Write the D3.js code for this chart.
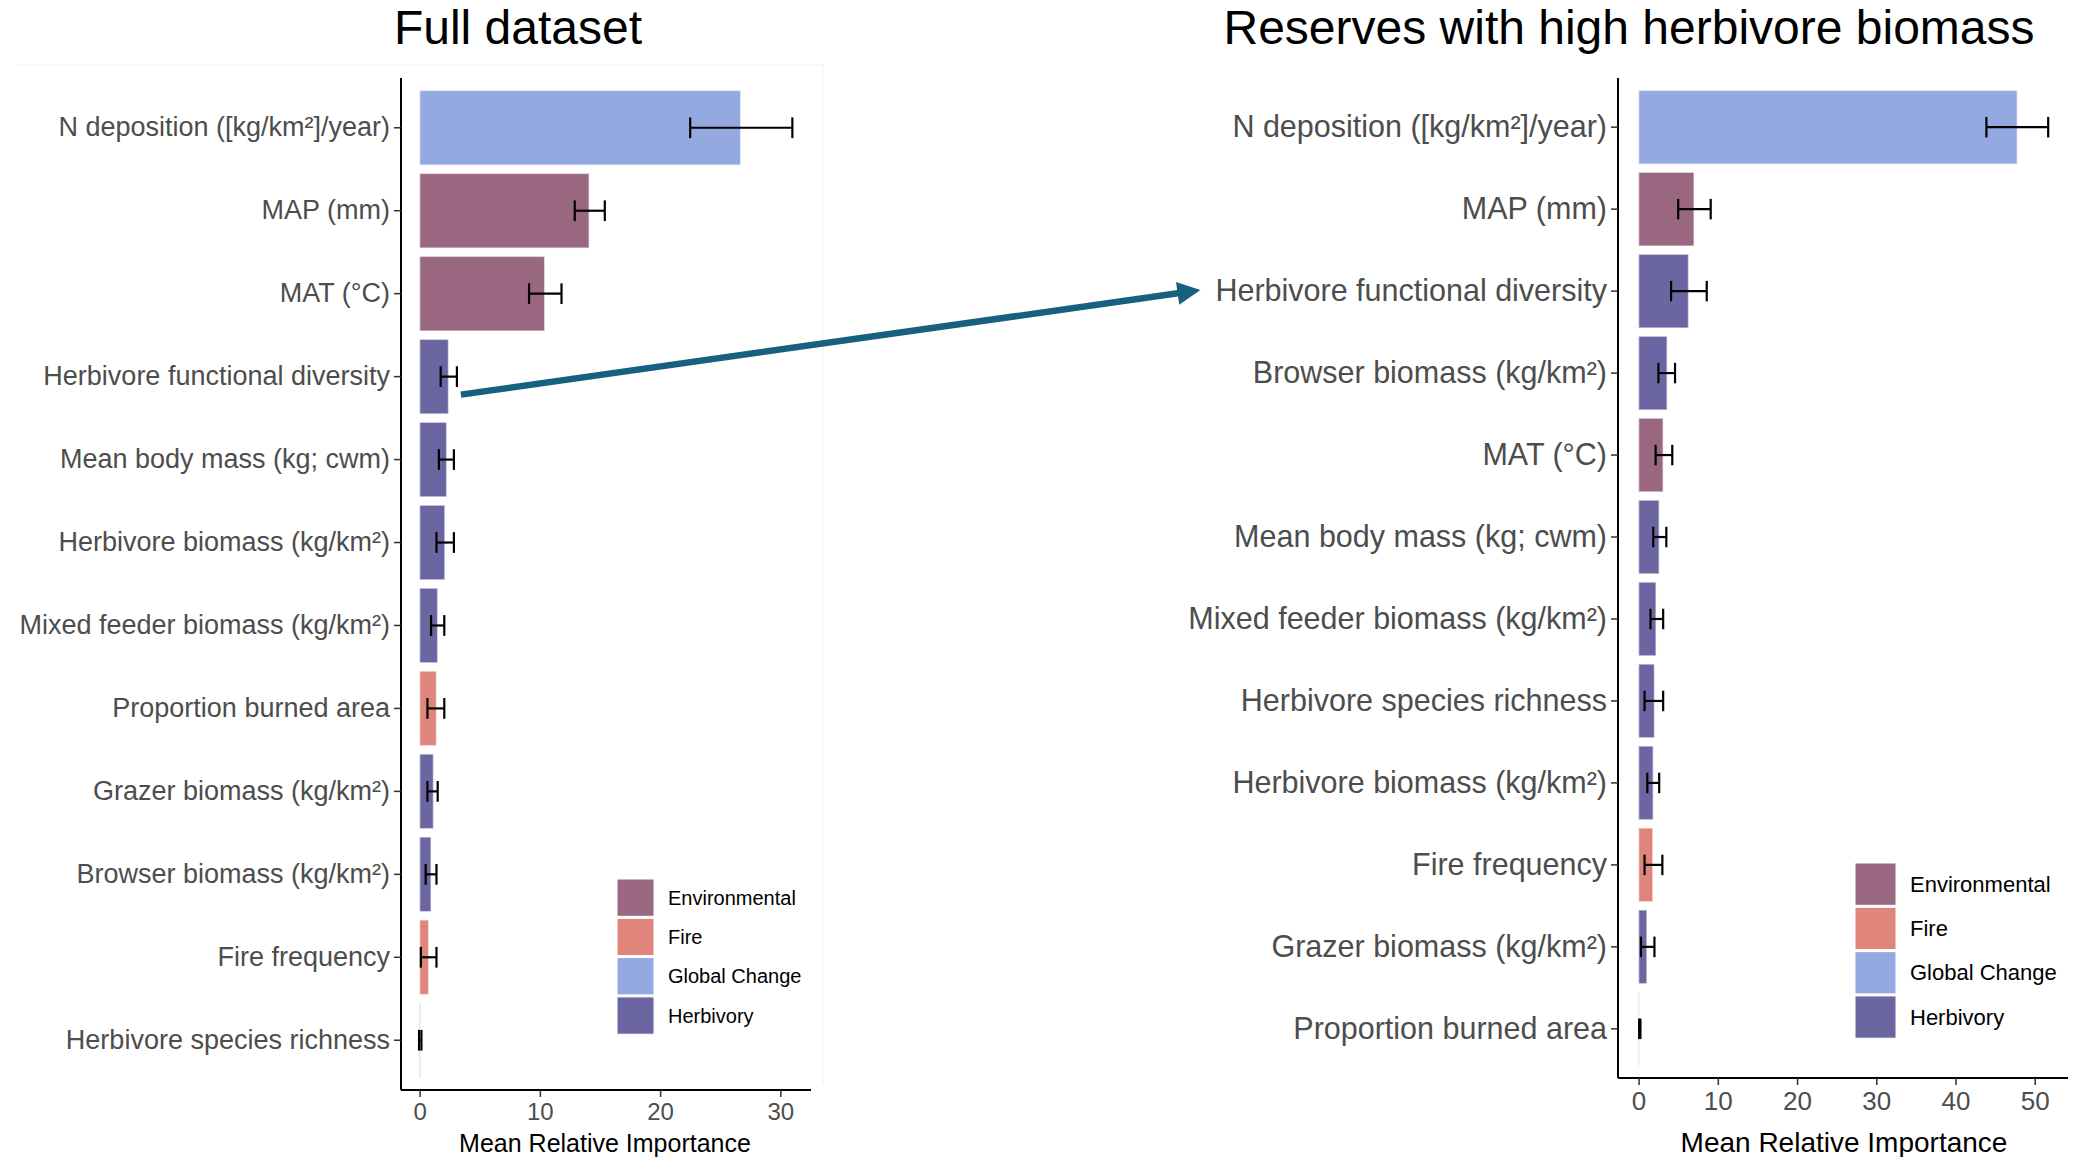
<!DOCTYPE html>
<html><head><meta charset="utf-8">
<script src="https://cdn.jsdelivr.net/npm/d3@7"></script>
<style>body{margin:0;background:#fff} svg{display:block} text{font-family:"Liberation Sans",Arial,Helvetica,sans-serif}</style>
</head><body><svg id="c" width="2075" height="1157"></svg>
<script>
const leftCategories = ["N deposition ([kg/km²]/year)","MAP (mm)","MAT (°C)","Herbivore functional diversity","Mean body mass (kg; cwm)","Herbivore biomass (kg/km²)","Mixed feeder biomass (kg/km²)","Proportion burned area","Grazer biomass (kg/km²)","Browser biomass (kg/km²)","Fire frequency","Herbivore species richness"];
const leftGroups = ["Global Change","Environmental","Environmental","Herbivory","Herbivory","Herbivory","Herbivory","Fire","Herbivory","Herbivory","Fire","Herbivory"];
const leftValues = [26.7,14.1,10.4,2.4,2.25,2.1,1.5,1.4,1.15,0.95,0.75,0.03];
const leftLower = [22.5,12.9,9.1,1.75,1.6,1.4,0.95,0.65,0.65,0.5,0.1,-0.05];
const leftUpper = [31.0,15.4,11.8,3.1,2.85,2.85,2.05,2.05,1.5,1.4,1.4,0.15];
const leftTicks = [0,10,20,30];

const rightCategories = ["N deposition ([kg/km²]/year)","MAP (mm)","Herbivore functional diversity","Browser biomass (kg/km²)","MAT (°C)","Mean body mass (kg; cwm)","Mixed feeder biomass (kg/km²)","Herbivore species richness","Herbivore biomass (kg/km²)","Fire frequency","Grazer biomass (kg/km²)","Proportion burned area"];
const rightGroups = ["Global Change","Environmental","Herbivory","Herbivory","Environmental","Herbivory","Herbivory","Herbivory","Herbivory","Fire","Herbivory","Fire"];
const rightValues = [47.8,7.0,6.3,3.6,3.1,2.6,2.2,2.0,1.85,1.8,1.05,0.02];
const rightLower = [43.9,5.0,4.1,2.5,2.15,1.85,1.5,0.75,1.1,0.75,0.3,0.07];
const rightUpper = [51.7,9.1,8.6,4.6,4.25,3.5,3.1,3.1,2.6,3.0,2.0,0.23];
const rightTicks = [0,10,20,30,40,50];

const groupNames = ["Environmental","Fire","Global Change","Herbivory"];
const groupColors = ["#9a6780","#e0857b","#94a9e0","#6b66a1"];

const titles = ["Full dataset","Reserves with high herbivore biomass"];
const axisTitle = "Mean Relative Importance";

const svg = d3.select("#c");
const color = d3.scaleOrdinal().domain(groupNames).range(groupColors);

// faint frame around left panel
svg.append("path").attr("d","M16,65H823V1085").attr("fill","none").attr("stroke","#f6f6f6").attr("stroke-width",1.5);

function panel(cfg){
  const g = svg.append("g");
  const x = d3.scaleLinear().domain(cfg.xdom).range([cfg.x0, cfg.x1]);
  const y = d3.scaleBand().domain(cfg.cats).range([cfg.top, cfg.bottom]).paddingInner(0.1).paddingOuter(0.15);
  const data = cfg.cats.map((c,i)=>({c, v:cfg.vals[i], lo:cfg.lo[i], hi:cfg.hi[i], g:cfg.groups[i]}));

  g.selectAll("rect.bar").data(data).join("rect").attr("class","bar")
    .attr("x", x(0)).attr("y", d=>y(d.c))
    .attr("width", d=>Math.max(0.6, x(d.v)-x(0))).attr("height", y.bandwidth())
    .attr("fill", d=>color(d.g)).attr("stroke","#ffffff").attr("stroke-opacity",0.55).attr("stroke-width",1.5);

  const cap = y.step()*0.25/2;
  const eb = g.selectAll("g.eb").data(data).join("g").attr("class","eb")
    .attr("transform", d=>`translate(0,${y(d.c)+y.bandwidth()/2})`);
  eb.append("line").attr("x1",d=>x(d.lo)).attr("x2",d=>x(d.hi)).attr("y1",0).attr("y2",0).attr("stroke","#000").attr("stroke-width",2.2);
  eb.append("line").attr("x1",d=>x(d.lo)).attr("x2",d=>x(d.lo)).attr("y1",-cap).attr("y2",cap).attr("stroke","#000").attr("stroke-width",2.2);
  eb.append("line").attr("x1",d=>x(d.hi)).attr("x2",d=>x(d.hi)).attr("y1",-cap).attr("y2",cap).attr("stroke","#000").attr("stroke-width",2.2);

  // y axis
  const ya = g.append("g").attr("transform",`translate(${cfg.x0},0)`)
    .call(d3.axisLeft(y).tickSize(7).tickPadding(4));
  ya.select(".domain").attr("d",`M0,${cfg.top}V${cfg.bottom}`).attr("stroke","#000").attr("stroke-width",2);
  ya.selectAll(".tick line").attr("stroke","#333").attr("stroke-width",1.5);
  ya.selectAll(".tick text").attr("font-size",cfg.yfs).attr("fill","#4d4d4d").attr("font-family","Liberation Sans, Arial, sans-serif");

  // x axis
  const xa = g.append("g").attr("transform",`translate(0,${cfg.bottom})`)
    .call(d3.axisBottom(x).tickValues(cfg.ticks).tickSize(7).tickPadding(cfg.tpad));
  xa.select(".domain").attr("d",`M${cfg.x0},0H${cfg.x1}`).attr("stroke","#000").attr("stroke-width",2);
  xa.selectAll(".tick line").attr("stroke","#333").attr("stroke-width",1.5);
  xa.selectAll(".tick text").attr("font-size",cfg.xfs).attr("fill","#4d4d4d").attr("font-family","Liberation Sans, Arial, sans-serif");

  g.append("text").attr("x",cfg.titleAxisX).attr("y",1152).attr("text-anchor","middle")
    .attr("font-size",cfg.atfs).attr("fill","#000").text(axisTitle);

  g.append("text").attr("x",cfg.titleX).attr("y",44).attr("text-anchor","middle")
    .attr("font-size",48).attr("fill","#000").text(cfg.title);

  // legend
  const lg = g.append("g").attr("transform",`translate(${cfg.lx},${cfg.ly})`);
  groupNames.forEach((n,i)=>{
    lg.append("rect").attr("x",0).attr("y",i*cfg.lstep).attr("width",cfg.lk).attr("height",cfg.lstep-2)
      .attr("fill",color(n)).attr("stroke","#fff").attr("stroke-width",1);
    lg.append("text").attr("x",cfg.lk+14).attr("y",i*cfg.lstep+(cfg.lstep-2)/2).attr("dy","0.35em")
      .attr("font-size",cfg.lfs).attr("fill","#000").text(n);
  });
  return {x,y,ya};
}

const L = panel({cats:leftCategories, vals:leftValues, lo:leftLower, hi:leftUpper, groups:leftGroups, ticks:leftTicks,
  xdom:[-1.55,32.55], x0:401, x1:811, top:78, bottom:1090, yfs:27, xfs:24, tpad:6, atfs:25, titleAxisX:605,
  title:titles[0], titleX:518, lx:617, ly:879, lstep:39.3, lk:37, lfs:20});
const R = panel({cats:rightCategories, vals:rightValues, lo:rightLower, hi:rightUpper, groups:rightGroups, ticks:rightTicks,
  xdom:[-2.6,54.2], x0:1618, x1:2068, top:78, bottom:1078, yfs:30.5, xfs:26, tpad:7, atfs:28, titleAxisX:1844,
  title:titles[1], titleX:1629, lx:1855, ly:863, lstep:44.3, lk:41, lfs:22});

// arrow linking "Herbivore functional diversity" across panels
const key = "Herbivore functional diversity";
const iL = leftCategories.indexOf(key);
const sx = L.x(leftUpper[iL]) + 4, sy = L.y(key) + L.y.bandwidth()/2 + 18;
let labelNode = null;
R.ya.selectAll(".tick").each(function(d){ if(d===key) labelNode = d3.select(this).select("text").node(); });
const bb = labelNode.getBBox();
const tx = R.x.range()[0] - 11 + bb.x - 4, ty = R.y(key) + R.y.bandwidth()/2 - 1;
const ang = Math.atan2(ty-sy, tx-sx), hl = 23, hw = 11.5;
const bx = tx - hl*Math.cos(ang), by = ty - hl*Math.sin(ang);
const arrowColor = "#17607f";
svg.append("line").attr("x1",sx).attr("y1",sy).attr("x2",bx+2*Math.cos(ang)).attr("y2",by+2*Math.sin(ang))
  .attr("stroke",arrowColor).attr("stroke-width",6.5);
svg.append("polygon").attr("fill",arrowColor).attr("points",[
  [tx,ty],
  [bx - hw*Math.sin(ang), by + hw*Math.cos(ang)],
  [bx + hw*Math.sin(ang), by - hw*Math.cos(ang)]
].map(p=>p.join(",")).join(" "));
</script></body></html>
